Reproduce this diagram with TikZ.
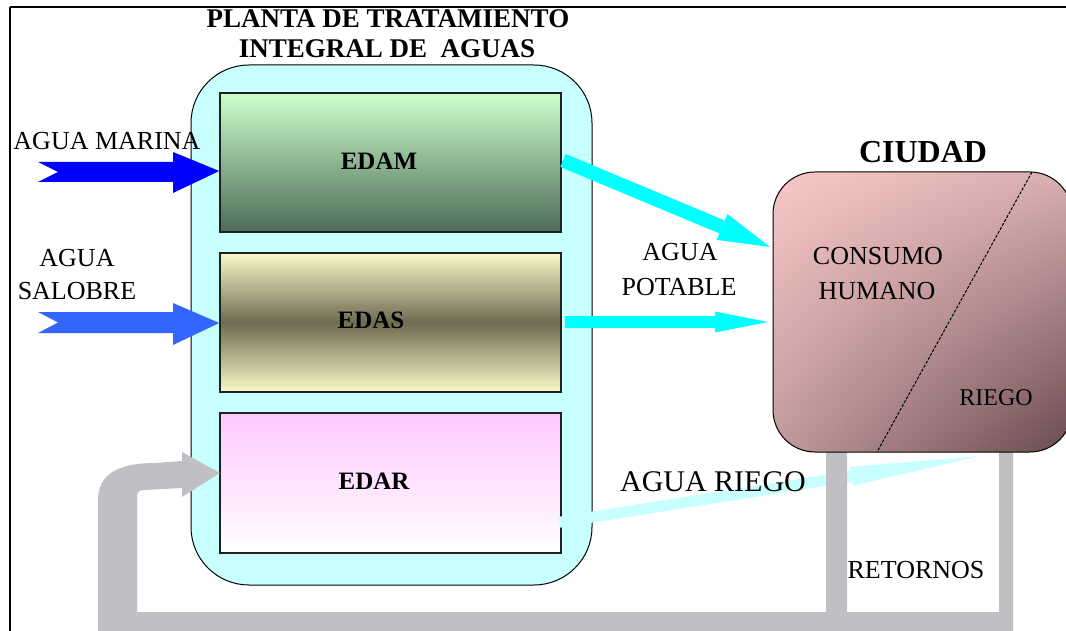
\documentclass[tikz,border=0pt]{standalone}
\usepackage{fontspec}
\setmainfont{Liberation Serif}
\usetikzlibrary{arrows.meta,shadings}
\definecolor{plantcyan}{HTML}{C8FFFF}
\definecolor{aqua}{HTML}{00FFFF}
\definecolor{pipegray}{HTML}{C0C0C4}
\definecolor{marina}{HTML}{0000FF}
\definecolor{salobre}{HTML}{3366FF}
\definecolor{edamtop}{HTML}{CCFFCC}
\definecolor{edambot}{HTML}{4D6A55}
\definecolor{edasout}{HTML}{FBF8C8}
\definecolor{edasmid}{HTML}{6E6B52}
\definecolor{edartop}{HTML}{FFC8FF}
\definecolor{cityul}{HTML}{F9C8C8}
\definecolor{cityur}{HTML}{D8AEAE}
\definecolor{cityll}{HTML}{C29A9A}
\definecolor{citylr}{HTML}{684A50}
\definecolor{boxline}{HTML}{202020}
\tikzset{
  lbl/.style={font=\fontsize{26}{30}\selectfont, inner sep=0pt, align=center},
  blbl/.style={font=\fontsize{25}{29}\selectfont\bfseries, inner sep=0pt},
  stagebox/.style={draw=boxline, line width=1.5pt, minimum width=341pt, inner sep=0pt},
  potable/.style={draw=aqua, line cap=butt},
  pipe/.style={fill=pipegray, draw=none},
}
\begin{document}
\begin{tikzpicture}[x=1pt,y=-1pt]
\useasboundingbox (0,0) rectangle (1066,631);
\fill[white] (0,0) rectangle (1066,631);
% frame
\draw[line width=2pt] (10,7) -- (1066,7);
\draw[line width=1.2pt] (10,7) -- (10,640);
% plant
\node[draw=black, line width=1pt, fill=plantcyan, rounded corners=58pt,
      minimum width=401pt, minimum height=520pt, inner sep=0pt] (plant) at (391.5,325) {};
% stages
\node[stagebox, minimum height=139pt, top color=edamtop, bottom color=edambot] (edam) at (390.5,162.5) {};
\node[stagebox, minimum height=139pt, top color=edasout, bottom color=edasout, middle color=edasmid] (edas) at (390.5,322.5) {};
\node[stagebox, minimum height=140pt, top color=edartop, bottom color=white] (edar) at (390.5,483) {};
\node[blbl] (edamt) at (379,161) {EDAM};
\node[blbl] (edast) at (371,320) {EDAS};
\node[blbl] (edart) at (374,481) {EDAR};
% riego band
\coordinate (riegoA) at (559,522.3);
\coordinate (riegoB) at (980,456);
\draw[draw=plantcyan, line width=11pt, -{Triangle[length=130pt 0,width=19pt 0,line width=0pt 0]}] (riegoA) -- (riegoB);
% pipes
\fill[pipe] (98,640) -- (98,500) .. controls (98,472) and (122,463) .. (155,463)
  -- (182,461) -- (182,452) -- (220,473) -- (182,497) -- (182,488) -- (144,490)
  .. controls (139,490) and (137,492) .. (137,497)
  -- (137,612) -- (826,612) -- (826,452) -- (847,452) -- (847,612)
  -- (999,612) -- (999,452) -- (1013,452) -- (1013,640) -- cycle;
% city
\node[draw=black, line width=1pt, rounded corners=42pt, minimum width=299pt, minimum height=280pt,
      inner sep=0pt, upper left=cityul, upper right=cityur, lower left=cityll, lower right=citylr] (city) at (922.5,312) {};
\coordinate (divT) at (1032,172);
\coordinate (divB) at (877,452);
\draw[dash pattern=on 3pt off 1.5pt, line width=1pt] (divT) -- (divB);
% potable arrows
\coordinate (p1a) at (563,160.5);
\coordinate (p1b) at (770,247);
\coordinate (p2a) at (565,322);
\coordinate (p2b) at (768,322);
\draw[potable, line width=14pt, -{Triangle[length=52pt 0,width=28pt 0,line width=0pt 0]}] (p1a) -- (p1b);
\draw[potable, line width=12pt, -{Triangle[length=53pt 0,width=21pt 0,line width=0pt 0]}] (p2a) -- (p2b);
% inflow arrows
\fill[marina] (38,162) -- (173,162) -- (173,152) -- (edam.west |- 0,171) -- (173,193) -- (173,182) -- (38,182) -- (58,172) -- cycle;
\fill[salobre] (38,312) -- (173,312) -- (173,303) -- (edas.west |- 0,323) -- (173,345) -- (173,333) -- (38,333) -- (58,322.5) -- cycle;
% texts
\node[font=\fontsize{27}{30}\selectfont\bfseries, inner sep=0pt] (t1) at (388,19) {PLANTA DE TRATAMIENTO};
\node[font=\fontsize{27}{30}\selectfont\bfseries, inner sep=0pt] (t2) at (387,49) {INTEGRAL DE\ \ AGUAS};
\node[lbl] (marinat) at (107,141) {AGUA MARINA};
\node[lbl] (salo1) at (77,258) {AGUA};
\node[lbl] (salo2) at (77,291) {SALOBRE};
\node[lbl] (pot1) at (680,252) {AGUA};
\node[lbl] (pot2) at (679,287) {POTABLE};
\node[font=\fontsize{32}{36}\selectfont\bfseries, inner sep=0pt] (ciudad) at (923,152) {CIUDAD};
\node[lbl] (cons1) at (878,256) {CONSUMO};
\node[lbl] (cons2) at (877,291) {HUMANO};
\node[lbl, font=\fontsize{24}{28}\selectfont] (riegot) at (996,398) {RIEGO};
\node[lbl, font=\fontsize{30}{34}\selectfont] (aguariego) at (713,482) {AGUA RIEGO};
\node[lbl] (retornos) at (916,570) {RETORNOS};
\end{tikzpicture}
\end{document}
